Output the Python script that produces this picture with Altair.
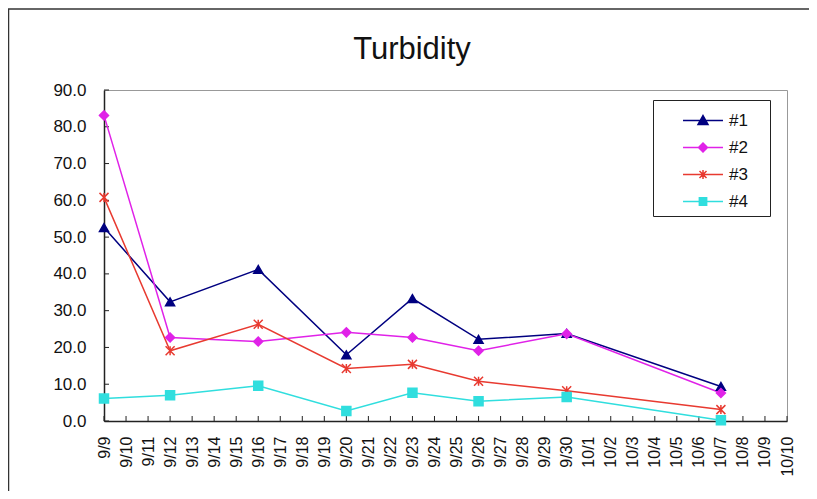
import altair as alt
import pandas as pd

# ---- data ----
dates_all = ['9/9', '9/10', '9/11', '9/12', '9/13', '9/14', '9/15', '9/16', '9/17', '9/18',
             '9/19', '9/20', '9/21', '9/22', '9/23', '9/24', '9/25', '9/26', '9/27', '9/28',
             '9/29', '9/30', '10/1', '10/2', '10/3', '10/4', '10/5', '10/6', '10/7', '10/8',
             '10/9', '10/10']
sample_dates = ['9/9', '9/12', '9/16', '9/20', '9/23', '9/26', '9/30', '10/7']
series_names = ['#1', '#2', '#3', '#4']
s1 = [52.6, 32.4, 41.2, 18.0, 33.3, 22.2, 23.8, 9.4]
s2 = [83.1, 22.7, 21.6, 24.1, 22.7, 19.1, 23.7, 7.6]
s3 = [60.8, 19.1, 26.3, 14.3, 15.4, 10.8, 8.2, 3.1]
s4 = [6.1, 7.0, 9.6, 2.7, 7.7, 5.4, 6.5, 0.2]
y_ticks = [0, 10, 20, 30, 40, 50, 60, 70, 80, 90]
title_text = 'Turbidity'

# ---- styles ----
colors = ['#000080', '#E022E8', '#E83A30', '#30DEDE']
FONT = 'Liberation Sans'
W, H = 683, 331

rows = []
for name, vals in zip(series_names, [s1, s2, s3, s4]):
    for d, v in zip(sample_dates, vals):
        rows.append({'series': name, 'date': d, 'value': v})
df = pd.DataFrame(rows)

X = alt.X('date:N', sort=dates_all, title=None,
          scale=alt.Scale(type='point', domain=dates_all, padding=0),
          axis=alt.Axis(labelAngle=270, labelFontSize=16, labelFont=FONT, labelColor='#111',
                        labelPadding=15, ticks=False, tickSize=0, labelOverlap=False,
                        domainColor='#222', domainWidth=1.5, grid=False))
Y = alt.Y('value:Q', title=None,
          scale=alt.Scale(domain=[0, 90], nice=False, zero=True),
          axis=alt.Axis(values=y_ticks, format='.1f', labelFontSize=17, labelFont=FONT,
                        labelColor='#111', labelPadding=18, ticks=False, tickSize=0,
                        domainColor='#222', domainWidth=1.5, grid=False))

cscale = alt.Scale(domain=series_names, range=colors)
asterisk = 'M-1,-1L1,1M-1,1L1,-1M0,-1L0,1'
plot_shapes = ['triangle-up', 'diamond', asterisk, 'square']
# legend symbols: a line segment with the marker in its middle (unit = 13.5 px)
legend_shapes = [
    'M-1.48,0L1.48,0M0,-0.37L0.37,0.3L-0.37,0.3ZM4.25,0L4.25,0',
    'M-1.48,0L1.48,0M0,-0.33L0.33,0L0,0.33L-0.33,0ZM4.25,0L4.25,0',
    'M-1.48,0L1.48,0M-0.26,-0.26L0.26,0.26M-0.26,0.26L0.26,-0.26M0,-0.33L0,0.33M4.25,0L4.25,0',
    'M-1.48,0L1.48,0M-0.27,-0.27L0.27,-0.27L0.27,0.27L-0.27,0.27ZM4.25,0L4.25,0',
]

lines = alt.Chart(df).mark_line(strokeWidth=1.5).encode(
    x=X, y=Y, color=alt.Color('series:N', scale=cscale, legend=None))

points = alt.Chart(df).mark_point(filled=True, size=81, strokeWidth=1.5, opacity=1).encode(
    x=X, y=Y,
    color=alt.Color('series:N', scale=cscale, legend=None),
    stroke=alt.Stroke('series:N', scale=cscale, legend=None),
    shape=alt.Shape('series:N', scale=alt.Scale(domain=series_names, range=plot_shapes), legend=None))

leg = alt.Legend(orient='none', legendX=549, legendY=10, title=None, strokeColor='#222',
                 fillColor='white', padding=6, symbolSize=729, symbolStrokeWidth=1.5,
                 symbolOffset=29.5, labelOffset=11.5, labelFontSize=17, labelFont=FONT,
                 labelColor='#111', rowPadding=4, symbolOpacity=1)

legend_layer = alt.Chart(df).transform_filter('false').mark_point(filled=True, opacity=1).encode(
    x=X, y=Y,
    color=alt.Color('series:N', scale=cscale, legend=leg),
    stroke=alt.Stroke('series:N', scale=cscale, legend=leg),
    shape=alt.Shape('series:N', scale=alt.Scale(domain=series_names, range=legend_shapes), legend=leg))

# inside tick marks, placed through the axes' scales
yticks = alt.Chart(pd.DataFrame({'value': y_ticks})).mark_rule(color='#222', strokeWidth=1).encode(
    y=Y, x=alt.value(0), x2=alt.value(5))
xticks = alt.Chart(pd.DataFrame({'date': dates_all})).mark_rule(color='#222', strokeWidth=1).encode(
    x=X, y=alt.value(H), y2=alt.value(H - 5))

# chart-area frame and title
one = pd.DataFrame({'t': [title_text]})
frame_top = alt.Chart(one).mark_rule(color='#333', strokeWidth=1.5).encode(
    x=alt.value(-96), x2=alt.value(708), y=alt.value(-81))
frame_left = alt.Chart(one).mark_rule(color='#333', strokeWidth=1.5).encode(
    x=alt.value(-95.5), y=alt.value(-81), y2=alt.value(H + 80))
frame_right = alt.Chart(one).mark_rule(color='#333', strokeWidth=1.5).encode(
    x=alt.value(708), y=alt.value(-81), y2=alt.value(H + 80))
title = alt.Chart(one).mark_text(fontSize=31, font=FONT, color='#111', align='center',
                                 baseline='alphabetic').encode(
    text='t:N', x=alt.value(308), y=alt.value(-31))

chart = alt.layer(frame_top, frame_left, frame_right, title, yticks, xticks,
                  lines, points, legend_layer).resolve_scale(
    color='independent', stroke='independent', shape='independent'
).properties(
    width=W, height=H,
    autosize=alt.AutoSizeParams(type='none'),
    padding={'left': 96, 'top': 82, 'right': 22, 'bottom': 70},
    background='white'
).configure_view(stroke='#999', strokeWidth=1)

chart.save('out.html', embed_options={'renderer': 'svg', 'actions': False})
